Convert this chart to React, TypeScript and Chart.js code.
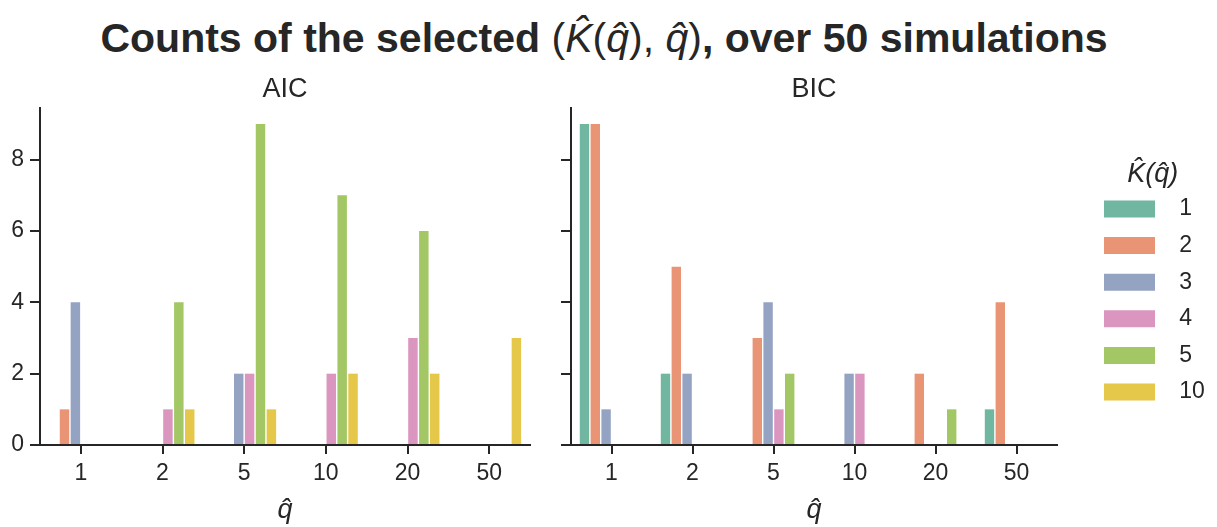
import React, { useEffect, useRef } from 'react';
import { Chart, registerables } from 'chart.js';

Chart.register(...registerables);

// ---------- data ----------
const categories = ['1', '2', '5', '10', '20', '50'];
const hueLevels = ['1', '2', '3', '4', '5', '10'];
const hueColors = ['#71b6a1', '#e99575', '#95a3c3', '#db96c0', '#a2c764', '#e5c849'];

// AIC counts per K̂ level, across q̂ categories
const aicK1 = [0, 0, 0, 0, 0, 0];
const aicK2 = [1, 0, 0, 0, 0, 0];
const aicK3 = [4, 0, 2, 0, 0, 0];
const aicK4 = [0, 1, 2, 2, 3, 0];
const aicK5 = [0, 4, 9, 7, 6, 0];
const aicK10 = [0, 1, 1, 2, 2, 3];

// BIC counts per K̂ level, across q̂ categories
const bicK1 = [9, 2, 0, 0, 0, 1];
const bicK2 = [9, 5, 3, 0, 2, 4];
const bicK3 = [1, 2, 4, 2, 0, 0];
const bicK4 = [0, 0, 1, 2, 0, 0];
const bicK5 = [0, 0, 2, 0, 1, 0];
const bicK10 = [0, 0, 0, 0, 0, 0];

const yTicks = [0, 2, 4, 6, 8];
const yMax = 9.45;

const aicSeries = [aicK1, aicK2, aicK3, aicK4, aicK5, aicK10];
const bicSeries = [bicK1, bicK2, bicK3, bicK4, bicK5, bicK10];

// ---------- style ----------
const FONT = "'Liberation Sans', Arial, Helvetica, sans-serif";
const TEXT = '#262626';
const TICK_SIZE = 23;
const LEG_SIZE = 23;
const LEG_PAD = 13.6;
const LEG_BOX_W = 51;
const LEG_BOX_H = 17;
const LEG_PREFIX = '  ';

const W_LEFT = 570;
const W_RIGHT = 677;
const RIGHT_OFFSET = 540;
const H = 527;

function buildDatasets(series: number[][]) {
  return series.map((vals, i) => ({
    label: hueLevels[i],
    data: vals,
    backgroundColor: hueColors[i],
    borderWidth: 0,
    categoryPercentage: 0.8,
    barPercentage: 0.87,
  }));
}

function makeOptions(title: string, isRight: boolean, padRight: number): any {
  return {
    responsive: false,
    animation: false,
    maintainAspectRatio: false,
    layout: { padding: { left: 0, right: padRight, top: 0, bottom: 0 } },
    plugins: {
      tooltip: { enabled: false },
      title: {
        display: true,
        text: title,
        fullSize: false,
        color: TEXT,
        font: { family: FONT, size: 27, weight: 'normal', lineHeight: 1.2 },
        padding: { top: 73.8, bottom: 1.8 },
      },
      legend: isRight
        ? {
            display: true,
            position: 'right',
            fullSize: false,
            align: 'center',
            labels: {
              boxWidth: LEG_BOX_W,
              boxHeight: LEG_BOX_H,
              padding: LEG_PAD,
              color: TEXT,
              font: { family: FONT, size: LEG_SIZE },
              generateLabels: (chart: any) =>
                Chart.defaults.plugins.legend.labels
                  .generateLabels(chart)
                  .map((l: any) => ({ ...l, text: LEG_PREFIX + l.text, lineWidth: 0 })),
            },
            title: {
              display: true,
              text: 'K\u0302(q\u0302)',
              color: TEXT,
              font: { family: FONT, size: 27, style: 'italic', lineHeight: 1 },
              padding: { top: 25, bottom: -4 },
            },
          }
        : { display: false },
    },
    scales: {
      x: {
        type: 'category',
        offset: true,
        grid: {
          display: true,
          offset: false,
          drawOnChartArea: false,
          drawTicks: true,
          tickLength: 9,
          tickWidth: 2,
          tickColor: TEXT,
          color: TEXT,
          lineWidth: 2,
        },
        border: { display: true, color: TEXT, width: 2 },
        ticks: {
          color: TEXT,
          font: { family: FONT, size: TICK_SIZE },
          padding: 6,
          maxRotation: 0,
          autoSkip: false,
        },
        title: {
          display: true,
          text: 'q\u0302',
          color: TEXT,
          font: { family: FONT, size: 27, style: 'italic', lineHeight: 1.2 },
          padding: { top: 0, bottom: 0 },
        },
        afterFit: (s: any) => {
          s.height = 82;
        },
      },
      y: {
        min: 0,
        max: yMax,
        afterBuildTicks: (s: any) => {
          s.ticks = yTicks.map((v) => ({ value: v }));
        },
        grid: {
          display: true,
          drawOnChartArea: false,
          drawTicks: true,
          tickLength: 10,
          tickWidth: 2,
          tickColor: TEXT,
          color: TEXT,
          lineWidth: 2,
        },
        border: { display: true, color: TEXT, width: 2 },
        ticks: {
          color: TEXT,
          font: { family: FONT, size: TICK_SIZE },
          padding: 6,
          callback: isRight ? () => '' : (v: any) => String(v),
        },
        afterFit: (s: any) => {
          s.width = isRight ? 31 : 40;
        },
      },
    },
  };
}

export default function App() {
  const leftRef = useRef<HTMLCanvasElement>(null);
  const rightRef = useRef<HTMLCanvasElement>(null);

  useEffect(() => {
    if (!leftRef.current || !rightRef.current) return;

    // measure legend width so that the right chart area ends at the desired place
    const mctx = document.createElement('canvas').getContext('2d')!;
    mctx.font = `${LEG_SIZE}px ${FONT}`;
    let maxText = 0;
    hueLevels.forEach((h) => {
      maxText = Math.max(maxText, mctx.measureText(LEG_PREFIX + h).width);
    });
    const legendW = LEG_PAD + LEG_BOX_W + LEG_SIZE / 2 + maxText + 10;
    const chartRight = 1057 - RIGHT_OFFSET;
    const padRight = W_RIGHT - chartRight - legendW;
    const legendTargetLeft = 1104 - RIGHT_OFFSET - LEG_PAD;

    const shiftLegend = {
      id: 'shiftLegend',
      afterLayout(chart: any) {
        const lg = chart.legend;
        if (!lg) return;
        const d = legendTargetLeft - lg.left;
        lg.left += d;
        lg.right += d;
      },
    };

    const left = new Chart(leftRef.current, {
      type: 'bar',
      data: { labels: categories, datasets: buildDatasets(aicSeries) },
      options: makeOptions('AIC', false, 40),
    });
    const right = new Chart(rightRef.current, {
      type: 'bar',
      data: { labels: categories, datasets: buildDatasets(bicSeries) },
      options: makeOptions('BIC', true, padRight),
      plugins: [shiftLegend],
    });
    return () => {
      left.destroy();
      right.destroy();
    };
  }, []);

  return (
    <div style={{ position: 'absolute', left: 0, top: 0, width: 1217, height: H, background: '#fff' }}>
      <div
        style={{
          position: 'absolute',
          left: -4.5,
          top: 18,
          width: 1217,
          textAlign: 'center',
          fontFamily: FONT,
          fontSize: 41,
          lineHeight: '41px',
          color: TEXT,
          fontWeight: 'bold',
          whiteSpace: 'nowrap',
        }}
      >
        Counts of the selected{' '}
        <span style={{ fontWeight: 'normal' }}>
          (<i>K{'\u0302'}</i>(<i>q{'\u0302'}</i>), <i>q{'\u0302'}</i>)
        </span>
        , over 50 simulations
      </div>
      <canvas
        ref={leftRef}
        width={W_LEFT}
        height={H}
        style={{ position: 'absolute', left: 0, top: 0, width: W_LEFT, height: H }}
      />
      <canvas
        ref={rightRef}
        width={W_RIGHT}
        height={H}
        style={{ position: 'absolute', left: RIGHT_OFFSET, top: 0, width: W_RIGHT, height: H }}
      />
    </div>
  );
}
